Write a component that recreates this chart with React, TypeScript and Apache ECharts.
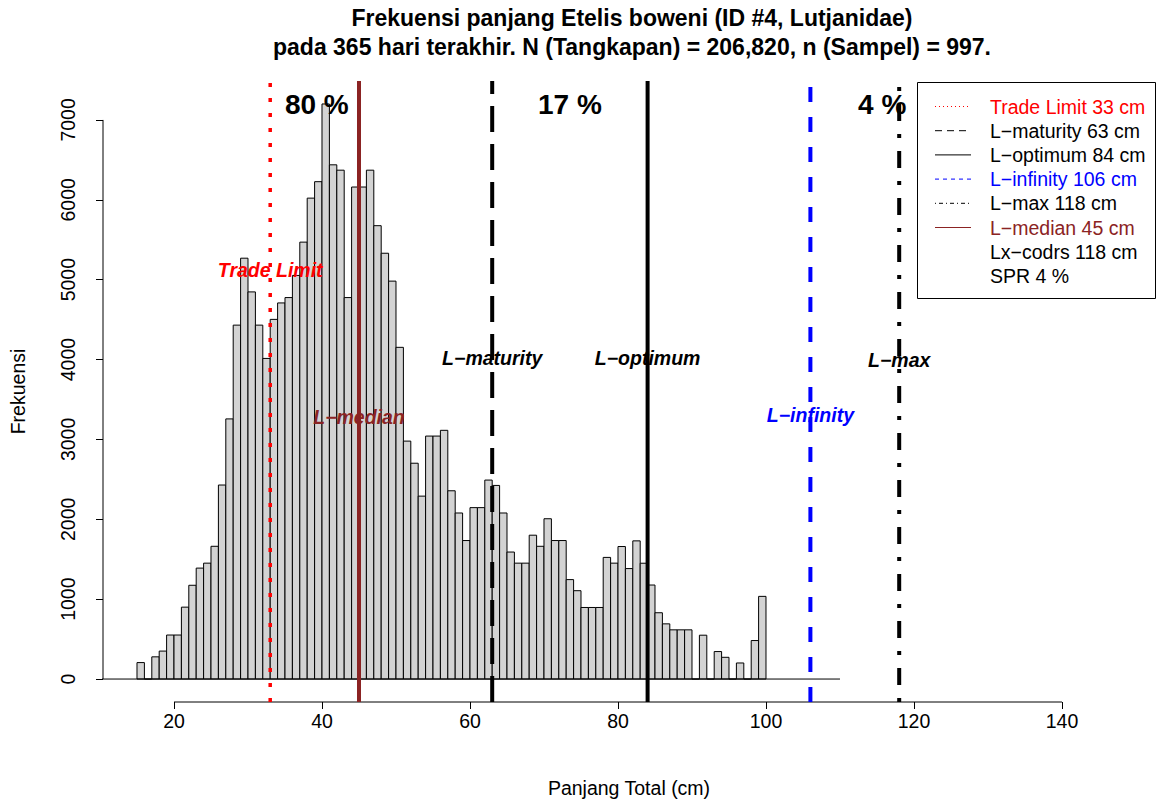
import React, { useEffect, useRef } from "react";
import * as echarts from "echarts";

// Length-frequency of Etelis boweni, 1-cm classes starting at 15 cm
const BIN_START = 15;
const BIN_WIDTH = 1;
const frequencies = [
  206, 0, 278, 350, 551, 551, 900, 1174, 1389, 1451, 1662, // 15–25
  2429, 3257, 4431, 5269, 4847, 4431, 4014, 4503, 4709, 4776, // 26–35
  5053, 5470, 6021, 6227, 7200, 6438, 6371, 4776, 6160, 6160, // 36–45
  6371, 5676, 5331, 4982, 4153, 2979, 2702, 2290, 3042, 3042, // 46–55
  3114, 2357, 2079, 1734, 2146, 2146, 2491, 2424, 2079, 1590, // 56–65
  1451, 1451, 1801, 1662, 2007, 1734, 1734, 1245, 1106, 896, // 66–75
  896, 896, 1523, 1451, 1659, 1383, 1730, 1450, 1177, 830, // 76–85
  691, 616, 616, 616, 0, 549, 0, 344, 272, 0, 201, 0, 482, 1035, // 86–99
];

// Reference lengths (cm)
const refNames = ["Trade Limit", "L−maturity", "L−optimum", "L−infinity", "L−max", "L−median"];
const refLengths = [33, 63, 84, 106, 118, 45];
const refColors = ["#FF0000", "#000000", "#000000", "#0000FF", "#000000", "#8B2323"];
const refLabelY = [5125, 4025, 4025, 3300, 4000, 3275];

// Share of the catch in each length range
const shareLabels = ["80 %", "17 %", "4 %"];
const shareX = [39.3, 73.5, 115.7];
const shareY = 7190;

const extraLegend = ["Lx−codrs 118 cm", "SPR 4 %"];

const xTicks = [20, 40, 60, 80, 100, 120, 140];
const yTicks = [0, 1000, 2000, 3000, 4000, 5000, 6000, 7000];

const TITLE_1 = "Frekuensi panjang Etelis boweni (ID #4, Lutjanidae)";
const TITLE_2 = "pada 365 hari terakhir. N (Tangkapan) = 206,820, n (Sampel) = 997.";

// Plot-region extent in data units
const X_MIN = 10.4054;
const X_MAX = 152.568;
const Y_MIN = -287.5;
const Y_MAX = 7487.5;

const FONT = "'Liberation Sans', Arial, Helvetica, sans-serif";

// dash pattern and width for each reference line
const refDash: (number[] | "solid")[] = [[4, 11], [26, 12], "solid", [15, 15], [4, 13, 17, 13], "solid"];
const refWidth = [3.5, 4, 4, 4, 4, 4];
const legendDash: (number[] | "solid")[] = [[1, 3], [7, 5], "solid", [4, 4], [1, 3, 4, 3], "solid"];

const plainLabel = { textBorderWidth: 0, textBorderColor: "transparent", textShadowBlur: 0 };

export default function App() {
  const ref = useRef<HTMLDivElement>(null);

  useEffect(() => {
    if (!ref.current) return;
    const chart = echarts.init(ref.current, undefined, { renderer: "svg" });

    const bars = frequencies.map((f, i) => [BIN_START + i * BIN_WIDTH, BIN_START + (i + 1) * BIN_WIDTH, f]);

    const refLineSeries = refLengths.map((len, i) => ({
      type: "line",
      name: refNames[i],
      data: [
        [len, Y_MIN],
        [len, Y_MAX],
      ],
      symbol: "none",
      silent: true,
      clip: false,
      z: 5,
      lineStyle: { color: refColors[i], width: refWidth[i], type: refDash[i], cap: "butt" },
    }));

    const axisLine = (pts: number[][]) => ({
      type: "line",
      data: pts,
      symbol: "none",
      silent: true,
      clip: false,
      z: 4,
      lineStyle: { color: "#000", width: 1 },
    });

    const legendX = 917;
    const legendY = 82;
    const rowY = (i: number) => 106.5 + i * 24.2;
    const legendTexts = refNames.map((n, i) => `${n} ${refLengths[i]} cm`).concat(extraLegend);
    const legendColors = refColors.concat(["#000000", "#000000"]);

    const graphic: any[] = [
      {
        type: "text",
        x: 632,
        y: 18,
        style: { text: TITLE_1, font: `bold 23px ${FONT}`, fill: "#000", textAlign: "center", textVerticalAlign: "middle" },
      },
      {
        type: "text",
        x: 632,
        y: 47,
        style: { text: TITLE_2, font: `bold 23px ${FONT}`, fill: "#000", textAlign: "center", textVerticalAlign: "middle" },
      },
      {
        type: "rect",
        shape: { x: legendX + 0.5, y: legendY + 0.5, width: 238, height: 216 },
        style: { fill: "#fff", stroke: "#000", lineWidth: 1 },
        z: 10,
      },
    ];
    refNames.forEach((_, i) => {
      graphic.push({
        type: "line",
        shape: { x1: 935, y1: rowY(i), x2: 971, y2: rowY(i) },
        style: { stroke: refColors[i], lineWidth: 1, lineDash: legendDash[i] === "solid" ? null : legendDash[i] },
        z: 11,
      });
    });
    legendTexts.forEach((t, i) => {
      graphic.push({
        type: "text",
        x: 990,
        y: rowY(i),
        style: { text: t, font: `19.5px ${FONT}`, fill: legendColors[i], textAlign: "left", textVerticalAlign: "middle" },
        z: 11,
      });
    });

    chart.setOption({
      animation: false,
      backgroundColor: "#fff",
      grid: { left: 103, right: 6, top: 81, bottom: 100, containLabel: false },
      xAxis: {
        type: "value",
        min: X_MIN,
        max: X_MAX,
        name: "Panjang Total (cm)",
        nameLocation: "middle",
        nameGap: 76,
        nameTextStyle: { fontFamily: FONT, fontSize: 19.5, color: "#000" },
        axisLine: { show: false, onZero: false },
        axisTick: { show: true, length: 7, customValues: xTicks, lineStyle: { color: "#000", width: 1 } },
        axisLabel: {
          customValues: xTicks,
          margin: 9,
          fontFamily: FONT,
          fontSize: 19.5,
          color: "#000",
          formatter: (v: number) => String(v),
        },
        splitLine: { show: false },
      },
      yAxis: {
        type: "value",
        min: Y_MIN,
        max: Y_MAX,
        name: "Frekuensi",
        nameLocation: "middle",
        nameRotate: 90,
        nameGap: 75,
        nameTextStyle: { fontFamily: FONT, fontSize: 19.5, color: "#000" },
        axisLine: { show: false, onZero: false },
        axisTick: { show: true, length: 7, customValues: yTicks, lineStyle: { color: "#000", width: 1 } },
        axisLabel: {
          customValues: yTicks,
          rotate: 90,
          margin: 25,
          fontFamily: FONT,
          fontSize: 19.5,
          color: "#000",
          formatter: (v: number) => String(v),
        },
        splitLine: { show: false },
      },
      graphic,
      series: [
        {
          type: "custom",
          name: "Frekuensi",
          data: bars,
          encode: { x: [0, 1], y: 2 },
          z: 2,
          renderItem: (_p: any, api: any) => {
            const top = api.coord([api.value(0), api.value(2)]);
            const bottom = api.coord([api.value(1), 0]);
            return {
              type: "rect",
              shape: { x: top[0], y: top[1], width: bottom[0] - top[0], height: bottom[1] - top[1] },
              style: { fill: "#D3D3D3", stroke: "#000", lineWidth: 1 },
            };
          },
        },
        axisLine([
          [xTicks[0], Y_MIN],
          [xTicks[xTicks.length - 1], Y_MIN],
        ]),
        axisLine([
          [X_MIN, yTicks[0]],
          [X_MIN, yTicks[yTicks.length - 1]],
        ]),
        // zero line under the histogram
        axisLine([
          [8.8, 0],
          [110, 0],
        ]),
        {
          type: "scatter",
          symbolSize: 0,
          silent: true,
          z: 4,
          itemStyle: { color: "#000", opacity: 1 },
          data: refNames.map((n, i) => ({
            value: [refLengths[i], refLabelY[i]],
            name: n,
            label: { color: refColors[i] },
          })),
          label: {
            show: true,
            position: "inside",
            formatter: "{b}",
            fontFamily: FONT,
            fontSize: 19.5,
            fontStyle: "italic",
            fontWeight: "bold",
            ...plainLabel,
          },
        },
        {
          type: "scatter",
          symbolSize: 0,
          silent: true,
          z: 4,
          itemStyle: { color: "#000", opacity: 1 },
          data: shareLabels.map((s, i) => ({ value: [shareX[i], shareY], name: s })),
          label: {
            show: true,
            position: "inside",
            formatter: "{b}",
            fontFamily: FONT,
            fontSize: 28,
            fontWeight: "bold",
            color: "#000",
            ...plainLabel,
          },
        },
        ...refLineSeries,
      ],
    });

    return () => chart.dispose();
  }, []);

  return <div ref={ref} style={{ position: "fixed", left: 0, top: 0, width: 1161, height: 803, background: "#fff" }} />;
}
